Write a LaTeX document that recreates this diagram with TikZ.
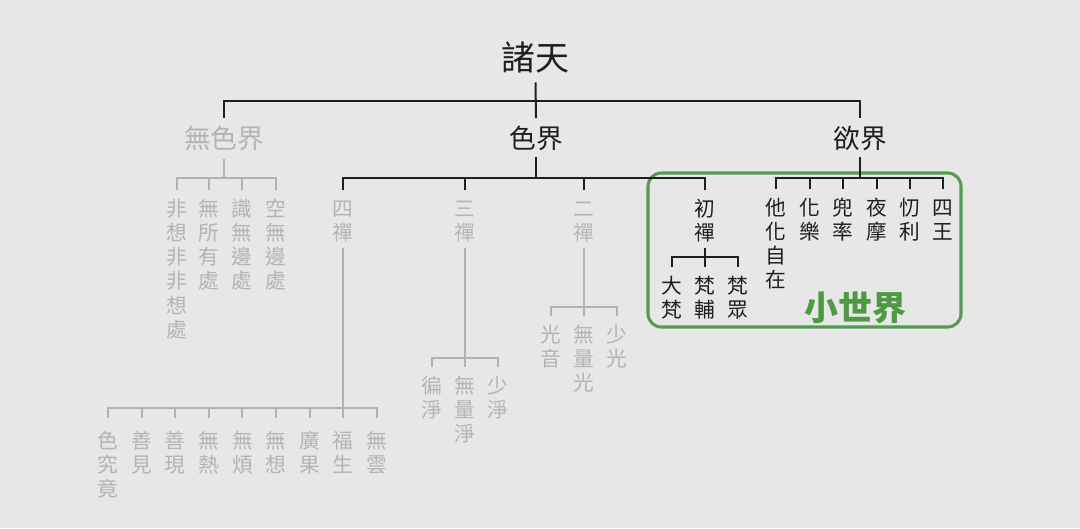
\documentclass[tikz,border=0pt]{standalone}
\usepackage{fontspec}
\setmainfont{Noto Sans CJK TC}
\definecolor{bgc}{HTML}{E7E7E7}
\definecolor{inkc}{HTML}{1E1E1E}
\definecolor{palec}{HTML}{B4B4B4}
\definecolor{palel}{HTML}{B2B2B2}
\definecolor{grnl}{HTML}{559A50}
\definecolor{grnt}{HTML}{4E9A42}
\newcommand\firstln{\rule{0pt}{0.92em}}
\begin{document}
\begin{tikzpicture}[x=0.75pt,y=-0.75pt,
  blk/.style={draw=inkc,line width=1.5pt},
  gry/.style={draw=palel,line width=1.4pt},
  rootlbl/.style={inner sep=0pt,anchor=center,text=inkc,font=\fontsize{25.5}{30}\selectfont},
  lvlone/.style={inner sep=0pt,anchor=center,font=\fontsize{20}{24}\selectfont},
  vcol/.style={inner sep=0pt,anchor=north,align=center,font=\fontsize{15.5}{18.2}\selectfont},
  darktxt/.style={text=inkc},
  lighttxt/.style={text=palec},
]
\fill[bgc] (0,0) rectangle (1080,528);
\useasboundingbox (0,0) rectangle (1080,528);

% green frame of the small world
\draw[grnl,line width=2.3pt,rounded corners=10pt] (648,173) rectangle (961,327);

% top levels
\node[rootlbl] (root) at (535.5,57) {諸天};
\node[lvlone,lighttxt] (wu) at (224,138) {無色界};
\node[lvlone,darktxt] (se) at (536,138) {色界};
\node[lvlone,darktxt] (yu) at (860,138) {欲界};

% formless realm children
\node[vcol,lighttxt] (w1) at (177,196.8) {\firstln 非\\想\\非\\非\\想\\處};
\node[vcol,lighttxt] (w2) at (209,196.8) {\firstln 無\\所\\有\\處};
\node[vcol,lighttxt] (w3) at (242,196.8) {\firstln 識\\無\\邊\\處};
\node[vcol,lighttxt] (w4) at (276,196.8) {\firstln 空\\無\\邊\\處};

% form realm children
\node[vcol,lighttxt] (c4) at (343,196.8) {\firstln 四\\禪};
\node[vcol,lighttxt] (c3) at (465,196.8) {\firstln 三\\禪};
\node[vcol,lighttxt] (c2) at (584,196.8) {\firstln 二\\禪};
\node[vcol,darktxt]  (c1) at (705,196.8) {\firstln 初\\禪};

% fourth dhyana children
\node[vcol,lighttxt] (f1) at (108,428.8) {\firstln 色\\究\\竟};
\node[vcol,lighttxt] (f2) at (141.6,428.8) {\firstln 善\\見};
\node[vcol,lighttxt] (f3) at (175.2,428.8) {\firstln 善\\現};
\node[vcol,lighttxt] (f4) at (208.8,428.8) {\firstln 無\\熱};
\node[vcol,lighttxt] (f5) at (242.4,428.8) {\firstln 無\\煩};
\node[vcol,lighttxt] (f6) at (276,428.8) {\firstln 無\\想};
\node[vcol,lighttxt] (f7) at (309.6,428.8) {\firstln 廣\\果};
\node[vcol,lighttxt] (f8) at (343,428.8) {\firstln 福\\生};
\node[vcol,lighttxt] (f9) at (377,428.8) {\firstln 無\\雲};

% third dhyana children
\node[vcol,lighttxt] (t1) at (432,373.8) {\firstln 徧\\淨};
\node[vcol,lighttxt] (t2) at (465,373.8) {\firstln 無\\量\\淨};
\node[vcol,lighttxt] (t3) at (498,373.8) {\firstln 少\\淨};

% second dhyana children
\node[vcol,lighttxt] (e1) at (551,322.8) {\firstln 光\\音};
\node[vcol,lighttxt] (e2) at (584,322.8) {\firstln 無\\量\\光};
\node[vcol,lighttxt] (e3) at (617,322.8) {\firstln 少\\光};

% first dhyana children
\node[vcol,darktxt] (p1) at (672,273.8) {\firstln 大\\梵};
\node[vcol,darktxt] (p2) at (705,273.8) {\firstln 梵\\輔};
\node[vcol,darktxt] (p3) at (738,273.8) {\firstln 梵\\眾};

% desire realm children
\node[vcol,darktxt] (y1) at (776,195.8) {\firstln 他\\化\\自\\在};
\node[vcol,darktxt] (y2) at (809.5,195.8) {\firstln 化\\樂};
\node[vcol,darktxt] (y3) at (843,195.8) {\firstln 兜\\率};
\node[vcol,darktxt] (y4) at (877,195.8) {\firstln 夜\\摩};
\node[vcol,darktxt] (y5) at (910,195.8) {\firstln 忉\\利};
\node[vcol,darktxt] (y6) at (943,195.8) {\firstln 四\\王};

\node[inner sep=0pt,text=grnt,font=\fontsize{25.5}{30}\selectfont\bfseries] (xsj) at (855,308) {小世界};

% bar coordinates
\coordinate (b0) at (535.5,101);
\coordinate (bw) at (226,178);
\coordinate (bs) at (536,178);
\coordinate (by) at (860,178);
\coordinate (b4) at (343,408);
\coordinate (b3) at (465,358);
\coordinate (b2) at (584,307);
\coordinate (b1) at (705,257);

% root
\draw[blk] ([yshift=-7pt]root.south) -- ([yshift=5.5pt]se.north);
\draw[blk] ([yshift=5.5pt]wu.north) |- (b0) -| ([yshift=5.5pt]yu.north);

% formless
\draw[gry] ([yshift=-6pt]wu.south) -- (wu.south |- bw);
\draw[gry] ([yshift=5pt]w1.north) |- (bw) -| ([yshift=5pt]w4.north);
\foreach \n in {w2,w3} \draw[gry] ([yshift=5pt]\n.north) -- (\n.north |- bw);

% form
\draw[blk] ([yshift=-5pt]se.south) -- (bs);
\draw[blk] ([yshift=5pt]c4.north) |- (bs) -| ([yshift=5pt]c1.north);
\foreach \n in {c3,c2} \draw[blk] ([yshift=5pt]\n.north) -- (\n.north |- bs);

% fourth dhyana
\draw[gry] ([yshift=-4pt]c4.south) -- ([yshift=8pt]f8.north);
\draw[gry] ([yshift=8pt]f1.north) |- (b4) -| ([yshift=8pt]f9.north);
\foreach \n in {f2,f3,f4,f5,f6,f7} \draw[gry] ([yshift=8pt]\n.north) -- (\n.north |- b4);

% third dhyana
\draw[gry] ([yshift=-4pt]c3.south) -- ([yshift=5pt]t2.north);
\draw[gry] ([yshift=5pt]t1.north) |- (b3) -| ([yshift=5pt]t3.north);

% second dhyana
\draw[gry] ([yshift=-4pt]c2.south) -- ([yshift=5pt]e2.north);
\draw[gry] ([yshift=5pt]e1.north) |- (b2) -| ([yshift=5pt]e3.north);

% first dhyana
\draw[blk] ([yshift=-4pt]c1.south) -- ([yshift=5pt]p2.north);
\draw[blk] ([yshift=5pt]p1.north) |- (b1) -| ([yshift=5pt]p3.north);

% desire
\draw[blk] ([yshift=-5pt]yu.south) -- (by);
\draw[blk] ([yshift=5pt]y1.north) |- (by) -| ([yshift=5pt]y6.north);
\foreach \n in {y2,y3,y4,y5} \draw[blk] ([yshift=5pt]\n.north) -- (\n.north |- by);
\end{tikzpicture}
\end{document}
